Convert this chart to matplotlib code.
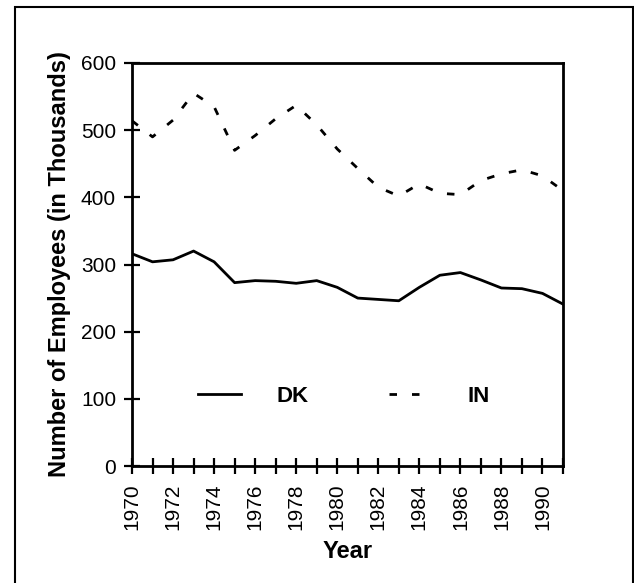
import matplotlib
matplotlib.use("Agg")
import matplotlib.pyplot as plt
from matplotlib.patches import Rectangle

years = list(range(1970, 1992))
dk = [316, 304, 307, 320, 304, 273, 276, 275, 272, 276, 266, 250, 248, 246, 266, 284, 288, 277, 265, 264, 257, 241]
ind = [514, 490, 515, 555, 535, 470, 492, 517, 537, 508, 472, 443, 415, 402, 420, 406, 404, 425, 435, 441, 432, 410]
ytick_vals = [0, 100, 200, 300, 400, 500, 600]

plt.rcParams['font.family'] = ['Liberation Sans', 'DejaVu Sans']

fig = plt.figure(figsize=(6.34, 5.83), dpi=100)
ax = fig.add_axes([132/634, 117/583, (563-132)/634, (466-63)/583])

ax.plot(years, dk, color='black', lw=2.0, label='DK')
ax.plot(years, ind, color='black', lw=2.0, dashes=(2.7, 5.4), label='IN')

ax.set_xlim(1970, 1991)
ax.set_ylim(0, 600)
ax.set_yticks(ytick_vals)
ax.set_xticks(years)
ax.set_xticklabels([str(y) if (y % 2 == 0) else '' for y in years], rotation=90)
ax.tick_params(axis='both', direction='inout', length=11, width=1.6, labelsize=15, colors='black')
ax.tick_params(axis='x', pad=7)
ax.tick_params(axis='y', pad=6)
for s in ax.spines.values():
    s.set_linewidth(2)

ax.set_xlabel('Year', fontsize=17, fontweight='bold', labelpad=7)
ax.set_ylabel('Number of Employees (in Thousands)', fontsize=17, fontweight='bold', labelpad=7)

leg = ax.legend(loc='center', bbox_to_anchor=(0.492, 0.172), ncol=2, frameon=False,
                handlelength=1.94, handletextpad=1.6, columnspacing=3.6,
                prop={'size': 16, 'weight': 'bold'})

fig.patches.append(Rectangle((15/634, -0.02), (633-15)/634, 1.02 - 7/583,
                             transform=fig.transFigure, fill=False, edgecolor='black', lw=1.5))

fig.savefig('out.png', dpi=100)
